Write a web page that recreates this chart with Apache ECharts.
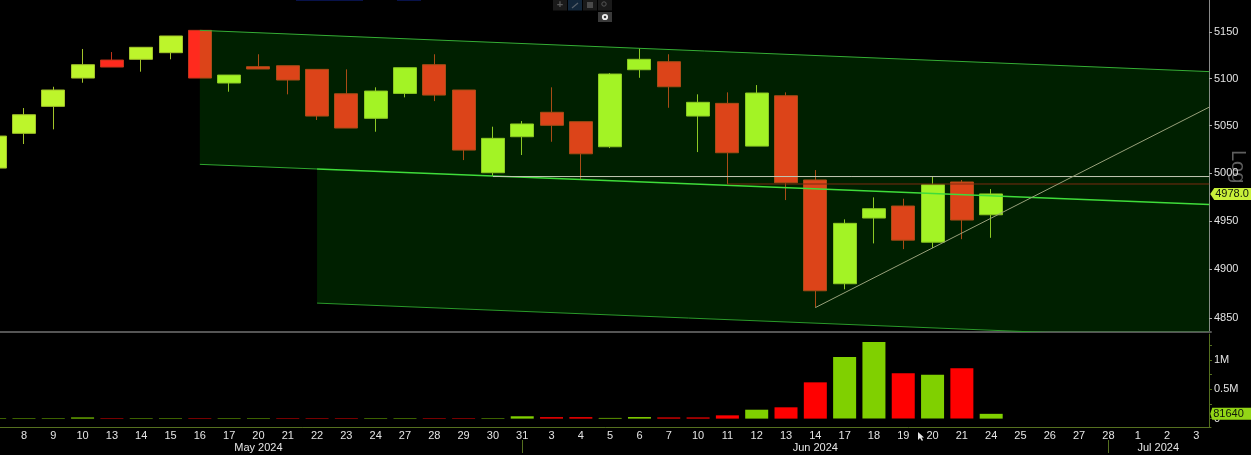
<!DOCTYPE html>
<html>
<head>
<meta charset="utf-8">
<style>
  html, body { margin: 0; padding: 0; background: #000; }
  #chart { width: 1251px; height: 455px; }
</style>
<script src="https://cdn.jsdelivr.net/npm/echarts@6/dist/echarts.min.js"></script>
</head>
<body>
<div id="chart"></div>
<script>
var dayLabels = ['7', '8', '9', '10', '13', '14', '15', '16', '17', '20', '21', '22', '23', '24', '27', '28', '29', '30', '31',
    '3', '4', '5', '6', '7', '10', '11', '12', '13', '14', '17', '18', '19', '20', '21', '24', '25', '26', '27', '28',
    '1', '2', '3'];

var opens = [5005.1, 5041.7, 5070.3, 5100.5, 5119.8, 5120.6, 5127.7, 5151.8, 5095.2, 5112.7, 5113.7, 5109.8, 5083.7, 5057.6, 5084.1,
    5114.8, 5087.7, 5000.2, 5038.1, 5064.0, 5054.0, 5027.5, 5109.4, 5118.0, 5060.0, 5073.5, 5028.2, 5081.6,
    4992.6, 4885.1, 4952.9, 4965.4, 4927.9, 4990.5, 4956.3];
var closes = [5038.8, 5061.4, 5087.7, 5114.8, 5112.3, 5133.5, 5145.7, 5100.5, 5103.7, 5110.2, 5098.4, 5060.0, 5047.3, 5086.6, 5111.6,
    5082.3, 5024.0, 5036.4, 5051.6, 5050.2, 5020.1, 5104.8, 5120.6, 5091.2, 5074.6, 5021.2, 5084.5, 4989.7,
    4877.9, 4947.4, 4962.6, 4930.0, 4987.6, 4950.8, 4978.0];
var lows = [5005.1, 5030.4, 5045.9, 5095.5, 5112.3, 5107.3, 5120.6, 5100.5, 5085.9, 5110.2, 5083.1, 5055.8, 5047.3, 5043.4, 5079.9,
    5075.9, 5013.5, 4996.8, 5018.8, 5032.8, 4993.6, 5026.1, 5100.8, 5068.8, 5021.9, 4988.1, 5028.2, 4971.6,
    4861.0, 4879.4, 4926.6, 4920.7, 4921.8, 4931.0, 4932.4];
var highs = [5038.8, 5068.5, 5091.2, 5131.7, 5128.4, 5133.5, 5145.7, 5151.8, 5103.7, 5126.0, 5113.7, 5110.1, 5109.8, 5090.6, 5111.6,
    5126.0, 5087.7, 5048.7, 5054.7, 5090.6, 5054.0, 5105.8, 5132.4, 5126.0, 5083.1, 5085.2, 5093.0, 5085.2,
    5003.0, 4951.5, 4974.4, 4973.0, 4996.0, 4992.6, 4983.1];

var volumesUp = [8000, 8000, 8000, 20000, null, 8000, 8000, null, 8000, 8000, null, null, null, 8000, 8000,
    null, null, 8000, 40000, null, null, 12000, 27000, null, null, null, 152000, null,
    null, 1051000, 1307000, null, 749000, null, 81640];
var volumesDown = [null, null, null, null, 8000, null, null, 8000, null, null, 8000, 8000, 8000, null, null,
    8000, 8000, null, null, 25000, 25000, null, null, 20000, 20000, 56000, null, 193000,
    619000, null, null, 773000, null, 858000, null];

var priceTicks = [4850, 4900, 4950, 5000, 5050, 5100, 5150];
var volumeTicks = [0, 500000, 1000000];
var volumeMinorTicks = [0, 250000, 500000, 750000, 1000000, 1250000];
var lastPrice = 4978.0;
var lastVolume = 81640;

// channel and trend lines, [category position, price]
var topLine = [[7, 5151.8], [41.44, 5107.4]];
var midLineLeft = [[7, 5009.0], [11, 5004.1]];
var midLine = [[11, 5004.1], [41.44, 4967.0]];
var bottomLine = [[11, 4865.3], [41.44, 4828.8]];
var supportLine = [[17, 4996.2], [41.44, 4996.2]];
var resistLine = [[25, 4988.4], [41.44, 4988.4]];
var trendLine = [[28, 4860.7], [41.44, 5069.5]];

var monthPositions = [9, 28, 39.7];
var monthNames = ['May 2024', 'Jun 2024', 'Jul 2024'];
var monthBreaks = [18, 38];

var font = '"Liberation Sans", sans-serif';
var candles = opens.map(function (o, i) {
    return [o, closes[i], lows[i], highs[i]];
});

function band(a, b, c, d) {
    return {
        type: 'custom',
        xAxisIndex: 1,
        yAxisIndex: 0,
        z: 5,
        clip: true,
        silent: true,
        data: [a.concat(b, c, d)],
        renderItem: function (params, api) {
            var pts = [];
            for (var i = 0; i < 4; i++) {
                pts.push(api.coord([api.value(i * 2), api.value(i * 2 + 1)]));
            }
            return { type: 'polygon', shape: { points: pts }, style: { fill: 'rgba(0,233,0,0.137)' } };
        }
    };
}

function segment(line, color, width) {
    return {
        type: 'custom',
        xAxisIndex: 1,
        yAxisIndex: 0,
        z: 6,
        clip: true,
        silent: true,
        data: [line[0].concat(line[1])],
        renderItem: function (params, api) {
            var p0 = api.coord([api.value(0), api.value(1)]);
            var p1 = api.coord([api.value(2), api.value(3)]);
            return {
                type: 'line',
                shape: { x1: p0[0], y1: p0[1], x2: p1[0], y2: p1[1] },
                style: { stroke: color, lineWidth: width, fill: null }
            };
        }
    };
}

function tag(xIdx, yIdx, value, text, color, left) {
    return {
        type: 'custom',
        xAxisIndex: xIdx,
        yAxisIndex: yIdx,
        z: 10,
        clip: false,
        silent: true,
        data: [[41.44, value]],
        renderItem: function (params, api) {
            var p = api.coord([api.value(0), api.value(1)]);
            return {
                type: 'group',
                children: [{
                    type: 'polygon',
                    shape: { points: [[p[0] + 1, p[1]], [p[0] + left, p[1] - 6], [p[0] + 42, p[1] - 6], [p[0] + 42, p[1] + 6], [p[0] + left, p[1] + 6]] },
                    style: { fill: color }
                }, {
                    type: 'text',
                    style: {
                        x: p[0] + left + 1,
                        y: p[1],
                        text: text,
                        fill: '#10180a',
                        font: '11px ' + font,
                        verticalAlign: 'middle'
                    }
                }]
            };
        }
    };
}

var myChart = echarts.init(document.getElementById('chart'));
myChart.setOption({
    animation: false,
    backgroundColor: '#000',
    grid: [
        { left: -20, right: 40, top: 0, height: 332, outerBoundsMode: 'none' },
        { left: -20, right: 40, top: 334, height: 93, outerBoundsMode: 'none' }
    ],
    xAxis: [
        {
            type: 'category',
            gridIndex: 0,
            data: dayLabels,
            axisLine: { show: true, onZero: false, lineStyle: { color: '#555', width: 2 } },
            axisTick: { show: false },
            axisLabel: { show: false }
        },
        { type: 'value', gridIndex: 0, position: 'bottom', min: -0.5, max: 41.5, show: false },
        {
            type: 'category',
            gridIndex: 1,
            data: dayLabels,
            axisLine: { onZero: false, lineStyle: { color: '#55701f' } },
            axisTick: { alignWithLabel: true, length: 2, interval: 0, lineStyle: { color: '#55701f' } },
            axisLabel: { interval: 0, color: '#e4e4e4', fontSize: 11, fontFamily: font, margin: 3 }
        },
        {
            type: 'value',
            gridIndex: 1,
            position: 'bottom',
            min: -0.5,
            max: 41.5,
            offset: 13,
            axisLine: { show: false, onZero: false },
            splitLine: { show: false },
            axisTick: { show: true, length: 13, customValues: monthBreaks, lineStyle: { color: '#55701f' } },
            axisLabel: {
                color: '#e4e4e4',
                fontSize: 11,
                fontFamily: font,
                margin: 2,
                customValues: monthPositions,
                formatter: function (v) {
                    return monthNames[monthPositions.indexOf(v)];
                }
            }
        }
    ],
    yAxis: [
        {
            type: 'log',
            gridIndex: 0,
            position: 'right',
            offset: -2,
            min: 4835.9,
            max: 5184.7,
            splitLine: { show: false },
            axisLine: { show: true, onZero: false, lineStyle: { color: '#8a8a8a' } },
            axisTick: { show: true, length: 3, customValues: priceTicks, lineStyle: { color: '#b0b0b0' } },
            axisLabel: {
                color: '#e4e4e4',
                fontSize: 11,
                fontFamily: font,
                margin: 5,
                customValues: priceTicks,
                formatter: function (v) {
                    return String(Math.round(v));
                }
            }
        },
        {
            type: 'value',
            gridIndex: 1,
            position: 'right',
            offset: -2,
            min: -143000,
            max: 1444000,
            splitLine: { show: false },
            axisLine: { show: true, onZero: false, lineStyle: { color: '#55701f' } },
            axisTick: { show: true, length: 3, customValues: volumeMinorTicks, lineStyle: { color: '#55701f' } },
            axisLabel: {
                color: '#e4e4e4',
                fontSize: 11,
                fontFamily: font,
                margin: 5,
                customValues: volumeTicks,
                formatter: function (v) {
                    return v === 0 ? '0' : (v / 1000000) + 'M';
                }
            }
        }
    ],
    series: [
        {
            type: 'candlestick',
            xAxisIndex: 0,
            yAxisIndex: 0,
            z: 3,
            barWidth: 23.5,
            data: candles,
            itemStyle: {
                color: '#bdf52b',
                color0: '#ff2a1e',
                borderColor: '#a3c42a',
                borderColor0: '#c4341a',
                borderWidth: 1
            }
        },
        band(topLine[0], topLine[1], midLine[1], midLineLeft[0]),
        band(midLine[0], midLine[1], bottomLine[1], bottomLine[0]),
        segment(topLine, '#35ad35', 1),
        segment(midLineLeft, '#2fa82f', 1),
        segment(midLine, '#3fdc3a', 1.5),
        segment(bottomLine, '#2a9a2a', 1),
        segment(supportLine, '#c4c8b4', 1),
        segment(resistLine, '#7a2c10', 1),
        segment(trendLine, '#98a07a', 1),
        {
            type: 'bar',
            xAxisIndex: 2,
            yAxisIndex: 1,
            barWidth: 23,
            barGap: '-100%',
            data: volumesUp,
            itemStyle: { color: '#80d000' }
        },
        {
            type: 'bar',
            xAxisIndex: 2,
            yAxisIndex: 1,
            barWidth: 23,
            barGap: '-100%',
            data: volumesDown,
            itemStyle: { color: '#ff0000' }
        },
        tag(1, 0, lastPrice, lastPrice.toFixed(1), '#c8f03a', 5),
        tag(3, 1, lastVolume, String(lastVolume), '#93d616', 3)
    ],
    graphic: [
        { type: 'rect', shape: { x: 296, y: 0, width: 67, height: 1 }, style: { fill: '#08124a' } },
        { type: 'rect', shape: { x: 397, y: 0, width: 24, height: 1 }, style: { fill: '#08124a' } },
        { type: 'rect', shape: { x: 553, y: 0, width: 14, height: 10.5 }, style: { fill: '#1a1a1a' } },
        { type: 'rect', shape: { x: 568, y: 0, width: 14, height: 10.5 }, style: { fill: '#12263a' } },
        { type: 'rect', shape: { x: 583, y: 0, width: 14, height: 10.5 }, style: { fill: '#1a1a1a' } },
        { type: 'rect', shape: { x: 598, y: 0, width: 14, height: 10.5 }, style: { fill: '#1a1a1a' } },
        { type: 'text', style: { x: 560, y: 5, text: '+', fill: '#5a5a5a', font: 'bold 11px ' + font, align: 'center', verticalAlign: 'middle' } },
        { type: 'line', shape: { x1: 572, y1: 8, x2: 578, y2: 3 }, style: { stroke: '#56606a', lineWidth: 1.2 } },
        { type: 'rect', shape: { x: 587, y: 2, width: 6, height: 6 }, style: { fill: '#4a4a4a' } },
        { type: 'circle', shape: { cx: 604, cy: 4, r: 2.2 }, style: { fill: 'none', stroke: '#555', lineWidth: 1 } },
        { type: 'rect', shape: { x: 598, y: 12, width: 14, height: 10 }, style: { fill: '#3a3a3a' } },
        { type: 'circle', shape: { cx: 605, cy: 17, r: 2.2 }, style: { fill: 'none', stroke: '#eee', lineWidth: 1.8 } },
        {
            type: 'text',
            x: 1228,
            y: 150,
            rotation: -Math.PI / 2,
            style: { x: 0, y: 0, text: 'Log', fill: '#5e5e5e', font: '20px ' + font, verticalAlign: 'bottom', align: 'left' }
        },
        { type: 'polygon', shape: { points: [[918, 432], [918, 440], [920, 438], [922, 441], [923, 440], [921.5, 437.5], [924, 437.5]] }, style: { fill: '#e8e8e8' } }
    ]
});
</script>
</body>
</html>
